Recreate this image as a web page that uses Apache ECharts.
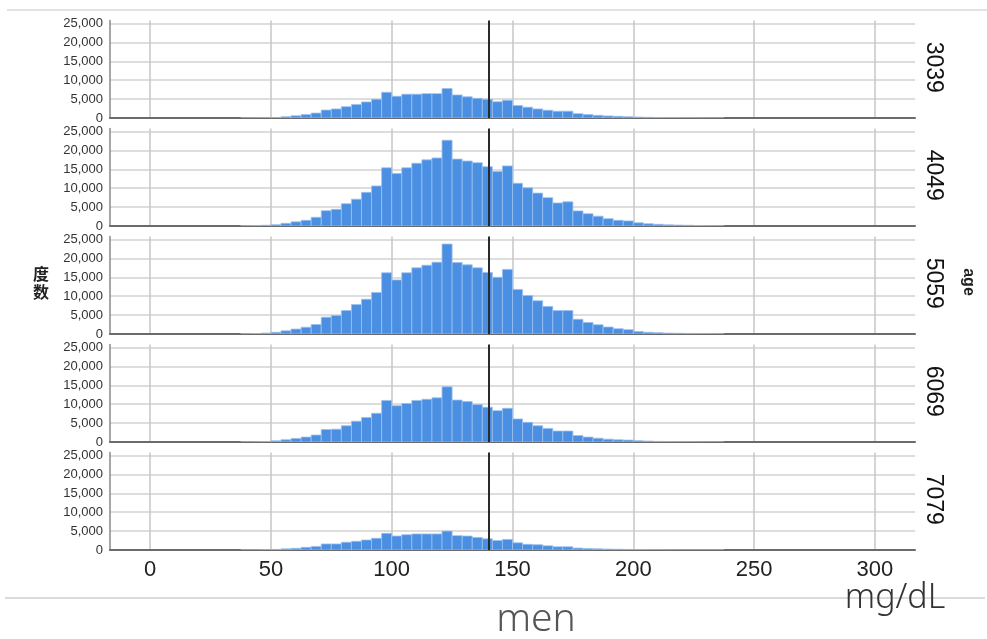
<!DOCTYPE html>
<html>
<head>
<meta charset="utf-8">
<script src="https://cdn.jsdelivr.net/npm/echarts@6/dist/echarts.min.js"></script>
<style>html,body{margin:0;padding:0;background:#fff}#c{width:987px;height:639px}</style>
</head>
<body>
<div id="c"></div>
<script>
// ---- data ----
const ageGroups = ['3039', '4049', '5059', '6069', '7079'];
const binWidth = 50 / 12;      // mg/dL per histogram bin
const firstBin = 9;            // index of first bin (bin k spans k*binWidth .. (k+1)*binWidth)
const counts3039 = [20,40,60,100,350,600,900,1300,2100,2400,3000,3600,4250,4950,6800,5750,6300,6300,6450,6450,7800,6100,5600,5200,4950,4300,4700,3300,2850,2400,2050,1800,1800,1150,900,700,550,450,350,250,180,140,100,80,60,40,30,20];
const counts4049 = [50,100,200,350,700,1100,1500,2300,4050,4400,5900,7100,8900,10600,15400,13900,15400,16600,17500,18000,22700,17700,17200,16750,15700,14400,15900,11300,10100,8700,7500,6100,6400,4000,3250,2600,1950,1500,1350,850,600,450,300,250,200,120,80,50];
const counts5059 = [50,100,250,450,850,1300,1800,2500,4450,4900,6200,7800,9200,11000,16200,14300,16200,17500,18200,19000,23800,18900,18300,17500,16300,15000,17100,11800,10200,8800,7300,6200,6200,3900,3050,2450,1850,1400,1150,650,450,350,250,200,150,100,70,50];
const counts6069 = [30,60,100,300,600,950,1300,1850,3300,3400,4300,5500,6500,7600,11000,9600,10200,11000,11300,11700,14600,11100,10700,9900,9200,8300,8900,6100,5200,4300,3600,2900,2900,1700,1300,1000,750,600,500,350,250,150,100,80,60,40,30,20];
const counts7079 = [10,30,80,150,300,450,700,950,1600,1600,2050,2300,2650,3100,4400,3700,4050,4250,4250,4250,5000,3800,3700,3300,2950,2500,2800,1900,1500,1400,1100,850,850,500,400,300,250,200,150,100,80,50,40,30,20,20,10,10];
const allCounts = [counts3039, counts4049, counts5059, counts6069, counts7079];
const refLine = 140;            // reference value (mg/dL)
const xMin = -16.6, xMax = 316.6;
const yMax = 25800, yInterval = 5000;
const yAxisTitle = '度\n数';
const facetTitle = 'age';
const unitLabel = 'mg/dL';
const captionLabel = 'men';

// ---- layout ----
const panelZero = [118, 226, 334, 442, 550];
const panelH = 97.5;
const plotLeft = 110, plotRight = 72;
const barFill = '#4a8fe2';

const chart = echarts.init(document.getElementById('c'), null, {renderer: 'canvas'});
const grids = [], xAxes = [], yAxes = [], series = [], graphics = [];

allCounts.forEach((arr, i) => {
  const last = i === allCounts.length - 1;
  grids.push({left: plotLeft, right: plotRight, top: panelZero[i] - panelH, height: panelH, containLabel: false});
  xAxes.push({
    type: 'value', gridIndex: i, min: xMin, max: xMax, splitNumber: 6,
    axisLine: {show: true, onZero: false, lineStyle: {color: '#6a6a6a', width: 2}},
    axisTick: {show: false},
    axisLabel: {show: last, showMinLabel: false, showMaxLabel: false, fontSize: 22,
      fontFamily: 'Liberation Sans, Arial, sans-serif', color: '#222', margin: 9},
    splitLine: {show: true, showMinLine: false, showMaxLine: false, lineStyle: {color: '#c6c6c6', width: 1.5}}
  });
  yAxes.push({
    type: 'value', gridIndex: i, min: 0, max: yMax, interval: yInterval,
    axisLine: {show: true, onZero: false, lineStyle: {color: '#8a8a8a', width: 1.5}},
    axisTick: {show: false},
    axisLabel: {showMaxLabel: false, fontSize: 13, color: '#333', margin: 7,
      fontFamily: 'Liberation Sans, Arial, sans-serif',
      formatter: v => (v % yInterval === 0 ? v.toLocaleString('en-US') : '')},
    splitLine: {show: true, showMaxLine: false, lineStyle: {color: '#d2d2d2', width: 1.5}}
  });
  const data = arr.map((c, j) => {
    const k = firstBin + j;
    return [k * binWidth, (k + 1) * binWidth, c];
  });
  series.push({
    type: 'custom', xAxisIndex: i, yAxisIndex: i, clip: true,
    encode: {x: [0, 1], y: 2},
    data: data,
    renderItem: (params, api) => {
      const p0 = api.coord([api.value(0), api.value(2)]);
      const p1 = api.coord([api.value(1), 0]);
      return {type: 'rect',
        shape: {x: p0[0], y: p0[1], width: p1[0] - p0[0], height: p1[1] - p0[1]},
        style: {fill: barFill, stroke: '#9cc0ef', lineWidth: 0.8}};
    },
    markLine: {
      silent: true, symbol: 'none', label: {show: false},
      lineStyle: {color: '#2a2a2a', width: 2, type: 'solid'},
      data: [{xAxis: refLine}]
    },
    z: 2
  });
  graphics.push({
    type: 'text', x: 933, y: panelZero[i] - panelH / 2 - 2, rotation: -Math.PI / 2,
    style: {text: ageGroups[i], fontSize: 23, fontFamily: 'Liberation Sans, Arial, sans-serif',
      fill: '#111', textAlign: 'center', textVerticalAlign: 'middle'}
  });
});

graphics.push(
  {type: 'line', shape: {x1: 7, y1: 10, x2: 987, y2: 10}, style: {stroke: '#d9d9d9', lineWidth: 1.5}},
  {type: 'line', shape: {x1: 5, y1: 598, x2: 985, y2: 598}, style: {stroke: '#cfcfcf', lineWidth: 1.5}},
  {type: 'text', x: 41, y: 283, style: {text: yAxisTitle, fontSize: 16, fontWeight: 'bold', lineHeight: 18,
    fontFamily: 'Noto Sans CJK SC, sans-serif', fill: '#222', textAlign: 'center', textVerticalAlign: 'middle'}},
  {type: 'text', x: 968, y: 282, rotation: -Math.PI / 2, style: {text: facetTitle, fontSize: 16, fontWeight: 'bold',
    fontFamily: 'Liberation Sans, Arial, sans-serif', fill: '#222', textAlign: 'center', textVerticalAlign: 'middle'}},
  {type: 'text', x: 895, y: 598, style: {text: unitLabel, fontSize: 34, fontWeight: 300,
    fontFamily: 'Noto Sans, sans-serif', fill: '#333', textAlign: 'center', textVerticalAlign: 'middle'}},
  {type: 'text', x: 536, y: 620, style: {text: captionLabel, fontSize: 39, fontWeight: 300,
    fontFamily: 'Noto Sans, sans-serif', fill: '#555', textAlign: 'center', textVerticalAlign: 'middle'}}
);

chart.setOption({
  animation: false,
  backgroundColor: '#fff',
  grid: grids, xAxis: xAxes, yAxis: yAxes, series: series,
  graphic: graphics
});
</script>
</body>
</html>
